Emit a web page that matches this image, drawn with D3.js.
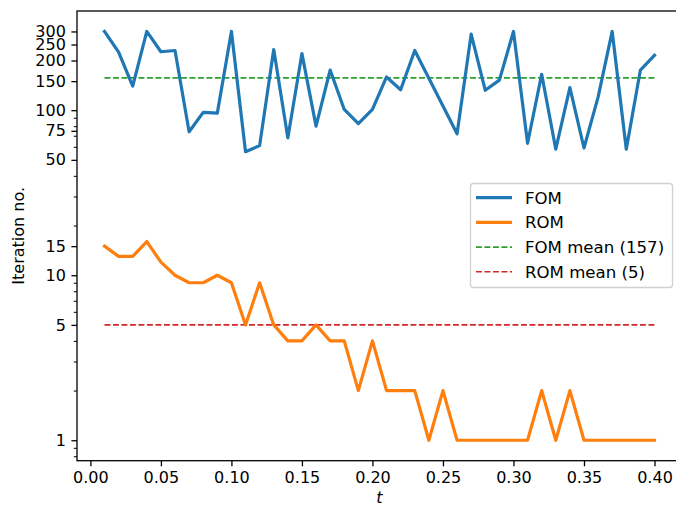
<!DOCTYPE html>
<html>
<head>
<meta charset="utf-8">
<script src="https://cdn.jsdelivr.net/npm/d3@7"></script>
<style>
  html, body { margin: 0; padding: 0; background: #fff; }
  svg { display: block; font-family: "DejaVu Sans", sans-serif; }
</style>
</head>
<body>
<svg id="chart" width="676" height="506"></svg>
<script>
// ---- data ----
const tValues = [0.01,0.02,0.03,0.04,0.05,0.06,0.07,0.08,0.09,0.10,
                 0.11,0.12,0.13,0.14,0.15,0.16,0.17,0.18,0.19,0.20,
                 0.21,0.22,0.23,0.24,0.25,0.26,0.27,0.28,0.29,0.30,
                 0.31,0.32,0.33,0.34,0.35,0.36,0.37,0.38,0.39,0.40];
const fomIters = [300,225,140,300,226,230,74,97,96,300,
                  56,61,233,68,220,80,175,101,83,101,
                  159,133,230,156,106,72,289,132,152,300,
                  63,165,58,137,59,120,300,58,175,215];
const romIters = [15,13,13,16,12,10,9,9,10,9,
                  5,9,5,4,4,5,4,4,2,4,
                  2,2,2,1,2,1,1,1,1,1,
                  1,2,1,2,1,1,1,1,1,1];
const fomMean = 157;
const romMean = 5;
const legendLabels = ["FOM", "ROM", "FOM mean (157)", "ROM mean (5)"];
const xTickValues = [0.00,0.05,0.10,0.15,0.20,0.25,0.30,0.35,0.40];
const yTickValues = [1,5,10,15,50,75,100,150,200,250,300];
const yMinorTicks = [0.8,0.9,2,3,4,6,7,8,9,20,30,40,60,70,80,90,400];

// ---- layout ----
const svg = d3.select("#chart");
const pL = 77, pR = 682, pT = 11, pB = 460.7;
const fs = 16;
const lfs = 16.6;

const x = d3.scaleLinear().domain([-0.0095, 0.4195]).range([pL, pR]);
const y = d3.scaleLog().domain([Math.pow(10, -0.1239), Math.pow(10, 2.601)]).range([pB, pT]);

const colors = { fom: "#1f77b4", rom: "#ff7f0e", fomMean: "#2ca02c", romMean: "#d62728" };

svg.append("clipPath").attr("id", "clip")
  .append("rect").attr("x", pL).attr("y", pT).attr("width", pR - pL).attr("height", pB - pT);

const line = d3.line().x(d => x(d[0])).y(d => y(d[1]));
const g = svg.append("g").attr("clip-path", "url(#clip)");

// mean lines
g.append("line")
  .attr("x1", x(tValues[0])).attr("x2", x(tValues[tValues.length - 1]))
  .attr("y1", y(fomMean)).attr("y2", y(fomMean))
  .attr("stroke", colors.fomMean).attr("stroke-width", 1.6).attr("stroke-dasharray", "5.9,2.6");
g.append("line")
  .attr("x1", x(tValues[0])).attr("x2", x(tValues[tValues.length - 1]))
  .attr("y1", y(romMean)).attr("y2", y(romMean))
  .attr("stroke", colors.romMean).attr("stroke-width", 1.6).attr("stroke-dasharray", "5.9,2.6");

// series
g.append("path").datum(tValues.map((t, i) => [t, fomIters[i]]))
  .attr("d", line).attr("fill", "none").attr("stroke", colors.fom)
  .attr("stroke-width", 3.2).attr("stroke-linejoin", "round").attr("stroke-linecap", "square");
g.append("path").datum(tValues.map((t, i) => [t, romIters[i]]))
  .attr("d", line).attr("fill", "none").attr("stroke", colors.rom)
  .attr("stroke-width", 3.2).attr("stroke-linejoin", "round").attr("stroke-linecap", "square");

// x axis
const xAxis = d3.axisBottom(x).tickValues(xTickValues).tickFormat(d3.format(".2f"))
  .tickSize(5.6).tickPadding(5.6);
const xg = svg.append("g").attr("transform", `translate(0,${pB})`).call(xAxis);
xg.select(".domain").remove();
xg.selectAll(".tick line").attr("stroke", "#000").attr("stroke-width", 1.3);
xg.selectAll(".tick text").attr("font-size", fs).attr("font-family", "DejaVu Sans").attr("fill", "#000");

// y axis major
const yAxis = d3.axisLeft(y).tickValues(yTickValues).tickFormat(d3.format("d"))
  .tickSize(5.6).tickPadding(5.6);
const yg = svg.append("g").attr("transform", `translate(${pL},0)`).call(yAxis);
yg.select(".domain").remove();
yg.selectAll(".tick line").attr("stroke", "#000").attr("stroke-width", 1.3);
yg.selectAll(".tick text").attr("font-size", fs).attr("font-family", "DejaVu Sans").attr("fill", "#000");

// y axis minor
const yMinor = d3.axisLeft(y).tickValues(yMinorTicks.filter(v => v >= y.domain()[0] && v <= y.domain()[1]))
  .tickFormat("").tickSize(3.2);
const ymg = svg.append("g").attr("transform", `translate(${pL},0)`).call(yMinor);
ymg.select(".domain").remove();
ymg.selectAll(".tick line").attr("stroke", "#000").attr("stroke-width", 1.0);

// spines
svg.append("rect").attr("x", pL).attr("y", pT).attr("width", pR - pL).attr("height", pB - pT)
  .attr("fill", "none").attr("stroke", "#000").attr("stroke-width", 1.3);

// axis labels
svg.append("text").attr("x", (pL + pR) / 2).attr("y", 503)
  .attr("text-anchor", "middle").attr("font-size", fs).attr("font-style", "italic").text("t");
svg.append("text").attr("transform", `translate(24,${(pT + pB) / 2}) rotate(-90)`)
  .attr("text-anchor", "middle").attr("font-size", fs).text("Iteration no.");

// legend
const lg = svg.append("g");
lg.append("rect").attr("x", 470.5).attr("y", 183.5).attr("width", 202).attr("height", 104)
  .attr("rx", 3).attr("fill", "#fff").attr("fill-opacity", 0.8)
  .attr("stroke", "#d0d0d0").attr("stroke-width", 1.3);
const legendItems = [
  { color: colors.fom, dash: null, w: 3.2 },
  { color: colors.rom, dash: null, w: 3.2 },
  { color: colors.fomMean, dash: "5.9,2.6", w: 1.6 },
  { color: colors.romMean, dash: "5.9,2.6", w: 1.6 }
];
const baselines = [203.5, 228.2, 252.9, 277.6];
legendItems.forEach((it, i) => {
  const ly = baselines[i] - 5.8;
  const l = lg.append("line").attr("x1", 476).attr("x2", 512).attr("y1", ly).attr("y2", ly)
    .attr("stroke", it.color).attr("stroke-width", it.w);
  if (it.dash) l.attr("stroke-dasharray", it.dash);
  lg.append("text").attr("x", 525).attr("y", baselines[i]).attr("font-size", lfs).attr("fill", "#000")
    .text(legendLabels[i]);
});
</script>
</body>
</html>
